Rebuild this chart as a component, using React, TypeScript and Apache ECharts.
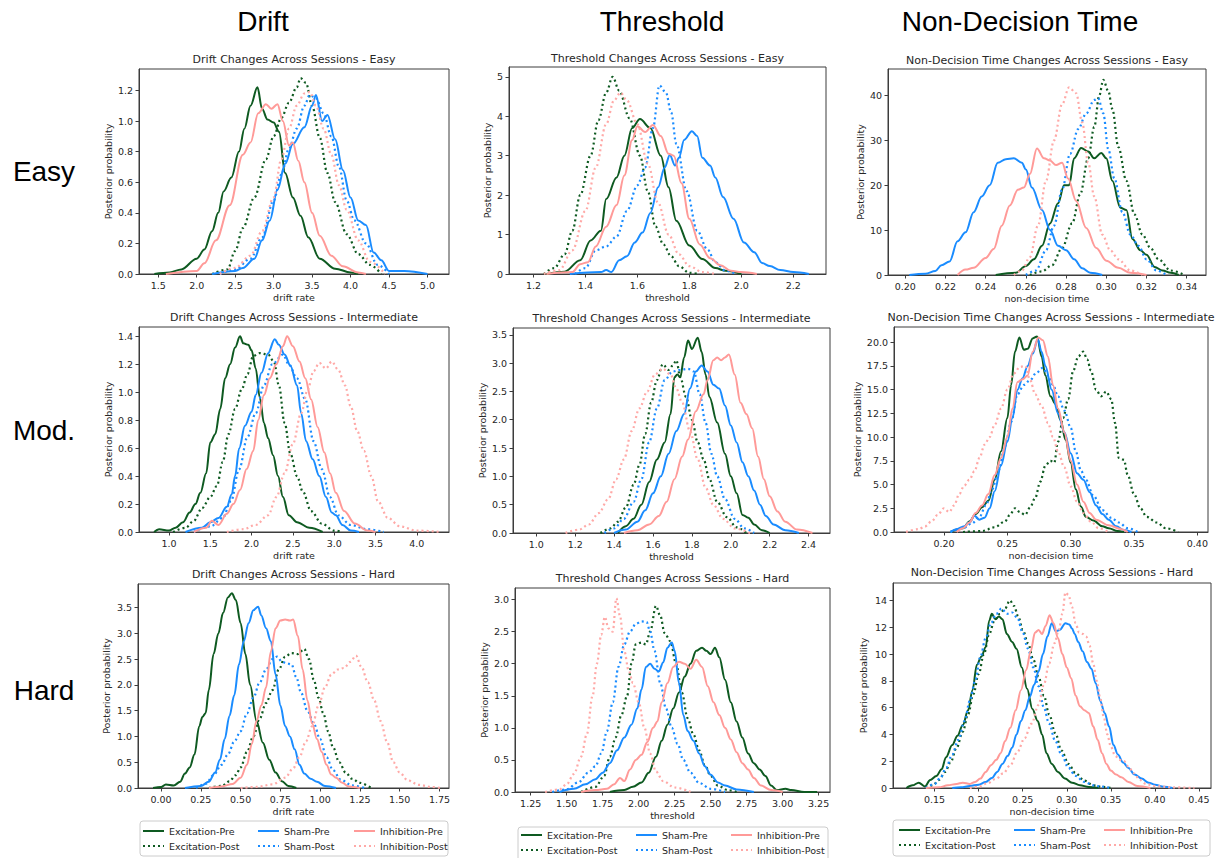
import React, { useEffect, useRef } from 'react';
import * as echarts from 'echarts';

// ---------- Drift - Easy ----------
const driftEasyExPre = [[1.45,0],[1.65,0.01],[1.8,0.03],[2.0,0.1],[2.1,0.16],[2.2,0.28],[2.28,0.4],[2.35,0.54],[2.45,0.63],[2.55,0.8],[2.62,0.95],[2.7,1.1],[2.79,1.22],[2.85,1.08],[2.92,1.01],[3.0,0.99],[3.07,0.93],[3.15,0.66],[3.25,0.5],[3.35,0.38],[3.45,0.24],[3.6,0.1],[3.8,0.035],[4.0,0.01],[4.1,0]];
const driftEasyExPost = [[2.2,0],[2.4,0.03],[2.5,0.15],[2.6,0.3],[2.75,0.5],[2.9,0.75],[3.0,0.9],[3.1,1.02],[3.2,1.12],[3.3,1.22],[3.35,1.28],[3.42,1.25],[3.5,1.1],[3.6,0.89],[3.7,0.66],[3.8,0.47],[3.95,0.26],[4.1,0.13],[4.25,0.06],[4.4,0]];
const driftEasyShamPre = [[2.2,0],[2.5,0.02],[2.6,0.04],[2.75,0.1],[2.85,0.22],[2.95,0.35],[3.05,0.55],[3.15,0.72],[3.25,0.85],[3.4,0.96],[3.5,1.1],[3.55,1.17],[3.63,1.0],[3.7,1.04],[3.8,0.88],[3.9,0.68],[4.0,0.5],[4.1,0.35],[4.2,0.32],[4.3,0.14],[4.4,0.09],[4.5,0.02],[4.7,0.02],[5.0,0]];
const driftEasyShamPost = [[2.3,0],[2.5,0.03],[2.7,0.1],[2.85,0.24],[3.0,0.48],[3.1,0.65],[3.2,0.82],[3.3,0.95],[3.4,1.1],[3.47,1.17],[3.55,1.15],[3.65,1.05],[3.75,0.9],[3.85,0.7],[3.95,0.48],[4.05,0.35],[4.2,0.2],[4.35,0.06],[4.5,0]];
const driftEasyInhPre = [[1.6,0],[2.0,0.02],[2.1,0.07],[2.25,0.22],[2.43,0.45],[2.6,0.78],[2.7,0.86],[2.8,1.05],[2.9,1.11],[2.97,1.08],[3.05,1.11],[3.12,1.0],[3.2,0.84],[3.25,0.86],[3.32,0.74],[3.4,0.6],[3.5,0.4],[3.6,0.25],[3.75,0.12],[3.9,0.05],[4.1,0.01],[4.2,0]];
const driftEasyInhPost = [[2.3,0],[2.5,0.04],[2.7,0.12],[2.85,0.28],[3.0,0.5],[3.1,0.75],[3.2,0.95],[3.3,1.1],[3.4,1.18],[3.47,1.19],[3.55,1.1],[3.65,0.95],[3.75,0.78],[3.85,0.58],[3.95,0.42],[4.1,0.22],[4.25,0.08],[4.45,0]];
const driftEasyXTicks = [1.5,2.0,2.5,3.0,3.5,4.0,4.5,5.0];
const driftEasyYTicks = [0,0.2,0.4,0.6,0.8,1.0,1.2];

// ---------- Threshold - Easy ----------
const thrEasyExPre = [[1.25,0],[1.32,0.06],[1.38,0.35],[1.42,0.85],[1.46,1.1],[1.48,1.9],[1.52,2.45],[1.55,3.0],[1.58,3.7],[1.61,3.93],[1.65,3.7],[1.69,3.0],[1.72,2.2],[1.75,1.35],[1.8,0.72],[1.85,0.38],[1.9,0.15],[1.94,0.08],[2.0,0]];
const thrEasyExPost = [[1.24,0],[1.28,0.15],[1.32,0.5],[1.35,1.1],[1.38,2.0],[1.42,3.0],[1.45,3.9],[1.48,4.6],[1.505,5.0],[1.53,4.65],[1.57,3.95],[1.61,3.0],[1.64,2.1],[1.67,1.2],[1.7,0.75],[1.73,0.45],[1.76,0.2],[1.8,0.03],[1.84,0]];
const thrEasyShamPre = [[1.34,0],[1.46,0.05],[1.48,0.1],[1.5,0.05],[1.53,0.35],[1.56,0.45],[1.59,0.8],[1.62,1.05],[1.65,1.55],[1.68,2.2],[1.705,2.7],[1.725,3.02],[1.745,2.75],[1.76,2.95],[1.78,3.4],[1.81,3.62],[1.83,3.5],[1.85,2.95],[1.88,2.75],[1.9,2.45],[1.93,1.95],[1.97,1.4],[2.01,0.8],[2.05,0.55],[2.08,0.28],[2.11,0.2],[2.15,0.1],[2.2,0.05],[2.26,0]];
const thrEasyShamPost = [[1.36,0],[1.4,0.15],[1.44,0.6],[1.48,0.7],[1.52,0.95],[1.56,1.6],[1.6,2.25],[1.63,2.7],[1.66,3.7],[1.685,4.78],[1.71,4.6],[1.73,4.1],[1.75,3.3],[1.79,2.1],[1.83,1.1],[1.87,0.62],[1.9,0.3],[1.94,0.08],[1.98,0]];
const thrEasyInhPre = [[1.25,0],[1.35,0.05],[1.38,0.25],[1.41,0.3],[1.44,0.7],[1.48,1.2],[1.52,1.75],[1.55,2.5],[1.58,3.4],[1.6,3.75],[1.63,3.6],[1.66,3.78],[1.69,3.5],[1.72,3.05],[1.74,3.0],[1.77,2.3],[1.8,1.4],[1.84,0.75],[1.88,0.4],[1.92,0.22],[1.96,0.08],[2.0,0.05],[2.06,0]];
const thrEasyInhPost = [[1.24,0],[1.3,0.1],[1.35,0.6],[1.4,1.6],[1.44,2.7],[1.48,3.8],[1.51,4.4],[1.535,4.6],[1.56,4.4],[1.6,3.8],[1.64,2.8],[1.68,1.8],[1.72,1.0],[1.76,0.5],[1.8,0.2],[1.85,0.05],[1.9,0]];
const thrEasyXTicks = [1.2,1.4,1.6,1.8,2.0,2.2];
const thrEasyYTicks = [0,1,2,3,4,5];

// ---------- Non-Decision Time - Easy ----------
const ndtEasyExPre = [[0.245,0],[0.255,0.5],[0.26,2],[0.264,3.5],[0.268,6.5],[0.272,11.5],[0.276,16],[0.279,20],[0.2815,20],[0.284,26],[0.2875,28.3],[0.291,27.5],[0.294,26],[0.2975,27.2],[0.3,26],[0.303,21],[0.307,15],[0.31,14.5],[0.313,8],[0.317,5.5],[0.32,4.5],[0.324,1.8],[0.328,1],[0.332,0.5],[0.336,0]];
const ndtEasyExPost = [[0.262,0],[0.268,0.8],[0.273,2.2],[0.278,6],[0.283,11.5],[0.287,18],[0.291,26],[0.294,33],[0.2965,40],[0.2985,43.5],[0.301,41],[0.303,37],[0.306,28.5],[0.31,21],[0.314,13.5],[0.318,9],[0.322,6],[0.326,3.5],[0.332,1],[0.339,0]];
const ndtEasyShamPre = [[0.202,0],[0.21,0.3],[0.215,0.9],[0.218,2.2],[0.222,3],[0.226,7.5],[0.23,9.5],[0.234,14],[0.238,17.5],[0.242,20],[0.246,25],[0.25,25.8],[0.254,26],[0.258,25],[0.26,23.5],[0.263,19.5],[0.268,14.5],[0.272,10],[0.276,6.5],[0.28,5.5],[0.284,3.5],[0.288,1.5],[0.292,0.5],[0.298,0]];
const ndtEasyShamPost = [[0.26,0],[0.265,1],[0.27,5.5],[0.274,11],[0.278,19],[0.282,27],[0.286,32.5],[0.29,36],[0.294,39],[0.296,39.4],[0.2985,36],[0.301,28],[0.304,21.5],[0.308,14],[0.312,9],[0.316,6.5],[0.32,3.5],[0.325,1],[0.33,0]];
const ndtEasyInhPre = [[0.226,0],[0.23,1.2],[0.234,1.6],[0.24,3.8],[0.244,5.8],[0.248,11],[0.252,15.5],[0.256,19],[0.259,19.5],[0.262,22.5],[0.2655,28.2],[0.269,26],[0.272,25.5],[0.275,24.5],[0.278,25],[0.281,21.5],[0.285,16.5],[0.29,10.5],[0.295,6],[0.3,3.2],[0.306,1.6],[0.312,0.5],[0.32,0]];
const ndtEasyInhPost = [[0.254,0],[0.258,1],[0.262,4],[0.266,11],[0.27,21],[0.274,30],[0.278,38],[0.2815,41.8],[0.285,40.5],[0.288,34],[0.291,25],[0.294,17.5],[0.298,9],[0.302,5.5],[0.306,3.5],[0.312,1],[0.318,0]];
const ndtEasyXTicks = [0.20,0.22,0.24,0.26,0.28,0.30,0.32,0.34];
const ndtEasyYTicks = [0,10,20,30,40];

// ---------- Drift - Intermediate ----------
const driftModExPre = [[0.82,0],[0.88,0.02],[1.0,0.01],[1.08,0.03],[1.17,0.07],[1.25,0.14],[1.32,0.2],[1.38,0.28],[1.45,0.42],[1.5,0.64],[1.56,0.7],[1.62,0.88],[1.68,1.1],[1.74,1.2],[1.8,1.32],[1.86,1.4],[1.9,1.35],[1.96,1.34],[2.0,1.3],[2.05,1.17],[2.1,0.96],[2.15,0.78],[2.2,0.67],[2.26,0.55],[2.32,0.4],[2.38,0.25],[2.45,0.12],[2.55,0.07],[2.7,0.03],[2.86,0]];
const driftModExPost = [[1.05,0],[1.2,0.03],[1.3,0.08],[1.4,0.17],[1.5,0.25],[1.58,0.33],[1.65,0.5],[1.72,0.7],[1.8,0.88],[1.88,1.02],[1.95,1.13],[2.02,1.26],[2.1,1.28],[2.2,1.27],[2.27,1.22],[2.33,1.05],[2.4,0.78],[2.47,0.56],[2.55,0.4],[2.62,0.29],[2.72,0.15],[2.85,0.06],[3.0,0.01],[3.1,0]];
const driftModShamPre = [[1.2,0],[1.4,0.03],[1.5,0.07],[1.6,0.1],[1.7,0.18],[1.76,0.27],[1.8,0.4],[1.85,0.6],[1.92,0.76],[2.0,0.86],[2.05,0.98],[2.12,1.14],[2.2,1.28],[2.28,1.38],[2.33,1.34],[2.4,1.27],[2.47,1.19],[2.55,1.05],[2.6,0.85],[2.66,0.65],[2.74,0.52],[2.82,0.4],[2.9,0.25],[2.97,0.14],[3.02,0.12],[3.1,0.05],[3.2,0.01],[3.3,0]];
const driftModShamPost = [[1.3,0],[1.5,0.04],[1.65,0.1],[1.75,0.22],[1.85,0.45],[1.95,0.68],[2.05,0.85],[2.15,1.05],[2.25,1.2],[2.38,1.27],[2.45,1.2],[2.55,1.1],[2.65,0.95],[2.75,0.65],[2.85,0.45],[2.95,0.25],[3.05,0.12],[3.2,0.05],[3.4,0.02],[3.6,0]];
const driftModInhPre = [[1.3,0],[1.45,0.03],[1.52,0.08],[1.6,0.05],[1.7,0.13],[1.78,0.2],[1.86,0.3],[1.94,0.45],[2.02,0.58],[2.08,0.8],[2.15,0.98],[2.22,1.1],[2.3,1.2],[2.38,1.33],[2.43,1.4],[2.5,1.33],[2.58,1.22],[2.65,1.1],[2.72,0.95],[2.8,0.75],[2.88,0.57],[2.95,0.42],[3.02,0.28],[3.12,0.15],[3.25,0.06],[3.4,0.01],[3.5,0]];
const driftModInhPost = [[1.7,0],[1.9,0.02],[2.05,0.05],[2.2,0.12],[2.3,0.25],[2.4,0.42],[2.5,0.63],[2.6,0.85],[2.68,1.02],[2.75,1.15],[2.82,1.21],[2.9,1.17],[2.97,1.22],[3.05,1.16],[3.13,1.05],[3.2,0.9],[3.28,0.72],[3.36,0.58],[3.45,0.4],[3.53,0.22],[3.65,0.1],[3.8,0.04],[4.0,0.01],[4.3,0]];
const driftModXTicks = [1.0,1.5,2.0,2.5,3.0,3.5,4.0];
const driftModYTicks = [0,0.2,0.4,0.6,0.8,1.0,1.2,1.4];

// ---------- Threshold - Intermediate ----------
const thrModExPre = [[1.42,0],[1.46,0.12],[1.5,0.25],[1.54,0.5],[1.58,0.9],[1.62,1.3],[1.66,1.6],[1.69,2.1],[1.71,2.75],[1.725,2.8],[1.74,2.75],[1.76,3.1],[1.78,3.4],[1.8,3.25],[1.83,3.45],[1.85,3.2],[1.87,2.8],[1.89,2.4],[1.93,1.95],[1.97,1.4],[2.0,1.0],[2.03,0.7],[2.06,0.32],[2.09,0.27],[2.12,0.15],[2.16,0.05],[2.2,0]];
const thrModExPost = [[1.33,0],[1.38,0.08],[1.42,0.2],[1.46,0.45],[1.5,0.85],[1.53,1.2],[1.56,1.75],[1.59,2.3],[1.62,2.7],[1.65,2.98],[1.68,2.88],[1.7,2.95],[1.72,3.05],[1.74,2.75],[1.77,2.4],[1.8,2.0],[1.83,1.6],[1.86,1.3],[1.89,0.95],[1.93,0.55],[1.98,0.28],[2.03,0.1],[2.08,0]];
const thrModShamPre = [[1.4,0],[1.46,0.06],[1.52,0.2],[1.56,0.4],[1.6,0.7],[1.64,1.0],[1.68,1.4],[1.72,1.8],[1.76,2.1],[1.79,2.55],[1.82,2.85],[1.85,2.96],[1.88,2.85],[1.91,2.62],[1.94,2.55],[1.97,2.25],[2.0,1.9],[2.03,1.6],[2.06,1.25],[2.09,1.0],[2.12,0.75],[2.15,0.5],[2.18,0.3],[2.22,0.15],[2.28,0.05],[2.35,0]];
const thrModShamPost = [[1.35,0],[1.4,0.08],[1.45,0.25],[1.5,0.55],[1.54,0.95],[1.58,1.6],[1.62,2.2],[1.66,2.7],[1.7,2.85],[1.74,2.88],[1.78,2.9],[1.81,2.85],[1.84,2.45],[1.87,1.95],[1.9,1.4],[1.93,1.0],[1.97,0.6],[2.02,0.25],[2.07,0.08],[2.12,0]];
const thrModInhPre = [[1.45,0],[1.52,0.05],[1.58,0.15],[1.63,0.3],[1.67,0.55],[1.71,0.95],[1.75,1.35],[1.78,1.65],[1.82,2.15],[1.86,2.45],[1.88,2.7],[1.91,3.05],[1.93,3.1],[1.95,3.05],[1.97,3.1],[1.99,3.15],[2.02,2.8],[2.05,2.3],[2.08,2.1],[2.11,1.85],[2.14,1.35],[2.17,0.95],[2.2,0.65],[2.24,0.38],[2.28,0.2],[2.34,0.06],[2.42,0]];
const thrModInhPost = [[1.15,0],[1.22,0.06],[1.27,0.15],[1.32,0.35],[1.37,0.6],[1.41,0.95],[1.45,1.3],[1.49,1.8],[1.53,2.2],[1.57,2.5],[1.61,2.8],[1.65,2.9],[1.69,2.8],[1.72,2.55],[1.75,2.3],[1.79,1.8],[1.83,1.3],[1.87,0.8],[1.91,0.5],[1.96,0.25],[2.02,0.08],[2.1,0]];
const thrModXTicks = [1.0,1.2,1.4,1.6,1.8,2.0,2.2,2.4];
const thrModYTicks = [0,0.5,1.0,1.5,2.0,2.5,3.0,3.5];

// ---------- Non-Decision Time - Intermediate ----------
const ndtModExPre = [[0.205,0],[0.215,0.4],[0.22,1.1],[0.225,1.9],[0.23,2.6],[0.235,3.3],[0.24,5.5],[0.245,8.5],[0.25,12],[0.253,15.5],[0.256,19],[0.2595,20.5],[0.263,19.2],[0.266,19.3],[0.27,20.4],[0.2735,20.6],[0.277,18.5],[0.28,16.5],[0.284,14.3],[0.288,13.5],[0.292,11.8],[0.296,9.7],[0.3,7.3],[0.304,4.5],[0.308,2.7],[0.312,1.6],[0.318,1.2],[0.325,0.6],[0.33,0.4],[0.337,0.1],[0.342,0]];
const ndtModExPost = [[0.215,0],[0.23,0.1],[0.24,0.5],[0.248,1.1],[0.252,1.8],[0.256,2.5],[0.26,2.1],[0.264,1.8],[0.268,2.6],[0.272,3.6],[0.276,5.3],[0.28,7.0],[0.284,7.5],[0.287,7.3],[0.29,9.5],[0.294,12],[0.298,14],[0.302,17],[0.306,18.5],[0.31,19],[0.313,18.2],[0.316,17],[0.32,15],[0.324,14.3],[0.328,14.8],[0.332,14],[0.335,11.5],[0.338,7.8],[0.342,7.6],[0.345,6],[0.35,4],[0.355,2.5],[0.36,1.6],[0.368,1.0],[0.375,0.4],[0.385,0]];
const ndtModShamPre = [[0.205,0],[0.21,0.3],[0.216,0.6],[0.22,1.0],[0.224,1.7],[0.228,1.3],[0.232,1.5],[0.236,2.5],[0.24,4.3],[0.245,7],[0.25,9.5],[0.254,12],[0.258,15],[0.262,16.2],[0.266,17.5],[0.27,18.8],[0.274,20.3],[0.277,19],[0.28,17.5],[0.285,15],[0.29,12.5],[0.295,10.5],[0.3,8.3],[0.305,6.2],[0.31,5.5],[0.315,4.2],[0.32,2.8],[0.325,1.9],[0.33,1.3],[0.336,0.6],[0.342,0.2],[0.348,0]];
const ndtModShamPost = [[0.205,0],[0.215,0.4],[0.222,0.9],[0.228,1.6],[0.233,2.8],[0.238,4.5],[0.243,6.5],[0.248,9],[0.253,11.6],[0.258,14.5],[0.263,15.5],[0.268,16],[0.273,16.8],[0.278,17.3],[0.282,16.5],[0.286,15.5],[0.29,14.3],[0.295,12.8],[0.3,11],[0.304,8.5],[0.308,6.5],[0.312,5.5],[0.318,3.8],[0.325,2.3],[0.332,1.5],[0.338,1.0],[0.345,0.4],[0.353,0]];
const ndtModInhPre = [[0.21,0],[0.215,0.4],[0.22,1.0],[0.225,2.0],[0.23,2.8],[0.235,4],[0.24,6],[0.245,7.8],[0.25,10],[0.254,13],[0.258,15.8],[0.262,16.1],[0.266,16.5],[0.27,19],[0.2745,20.5],[0.278,20.2],[0.282,18.5],[0.286,15.5],[0.29,13],[0.295,10.5],[0.3,7.5],[0.305,5],[0.31,3.2],[0.315,2],[0.32,1.3],[0.33,0.7],[0.34,0.3],[0.345,0]];
const ndtModInhPost = [[0.17,0],[0.18,0.3],[0.185,0.6],[0.19,1.1],[0.195,1.8],[0.2,2.5],[0.204,2.1],[0.208,2.8],[0.212,4],[0.216,4.9],[0.22,5.5],[0.224,6.4],[0.228,7.8],[0.232,9.2],[0.236,10],[0.24,11.3],[0.245,13],[0.25,15],[0.255,16.7],[0.26,17.4],[0.264,17.5],[0.268,16],[0.272,14.5],[0.277,13.3],[0.282,11.5],[0.286,10],[0.29,8.5],[0.295,6.8],[0.3,4.8],[0.305,3.2],[0.31,2],[0.316,1.1],[0.322,0.4],[0.33,0]];
const ndtModXTicks = [0.20,0.25,0.30,0.35,0.40];
const ndtModYTicks = [0,2.5,5.0,7.5,10.0,12.5,15.0,17.5,20.0];

// ---------- Drift - Hard ----------
const driftHardExPre = [[-0.05,0],[0.0,0.02],[0.03,0.07],[0.08,0.05],[0.12,0.12],[0.15,0.28],[0.18,0.4],[0.21,0.65],[0.24,1.2],[0.26,1.38],[0.28,1.45],[0.3,1.9],[0.33,2.6],[0.36,3.0],[0.39,3.4],[0.42,3.7],[0.445,3.78],[0.47,3.65],[0.5,3.2],[0.53,2.6],[0.56,2.0],[0.6,1.3],[0.64,0.88],[0.68,0.55],[0.72,0.3],[0.76,0.13],[0.8,0.04],[0.85,0]];
const driftHardExPost = [[0.3,0],[0.38,0.04],[0.43,0.13],[0.47,0.25],[0.5,0.4],[0.54,0.7],[0.58,1.0],[0.62,1.35],[0.66,1.65],[0.7,1.9],[0.74,2.3],[0.78,2.55],[0.82,2.62],[0.86,2.6],[0.9,2.7],[0.93,2.5],[0.96,2.1],[0.99,1.75],[1.02,1.45],[1.05,1.1],[1.08,0.8],[1.12,0.5],[1.16,0.3],[1.2,0.18],[1.25,0.1],[1.32,0]];
const driftHardShamPre = [[0.15,0],[0.25,0.04],[0.3,0.12],[0.34,0.3],[0.37,0.55],[0.4,0.95],[0.43,1.4],[0.46,1.8],[0.49,2.4],[0.52,2.85],[0.55,3.2],[0.58,3.45],[0.61,3.52],[0.63,3.35],[0.66,3.1],[0.69,2.85],[0.72,2.2],[0.75,1.6],[0.78,1.2],[0.81,1.0],[0.84,0.75],[0.87,0.45],[0.9,0.28],[0.94,0.18],[0.98,0.12],[1.03,0.04],[1.1,0]];
const driftHardShamPost = [[0.22,0],[0.28,0.08],[0.33,0.25],[0.38,0.45],[0.42,0.65],[0.46,0.9],[0.5,1.1],[0.54,1.45],[0.58,1.75],[0.62,2.05],[0.66,2.3],[0.7,2.5],[0.73,2.55],[0.76,2.45],[0.79,2.42],[0.82,2.4],[0.85,2.15],[0.88,1.85],[0.92,1.5],[0.96,1.25],[1.0,0.95],[1.04,0.6],[1.08,0.35],[1.13,0.16],[1.2,0.05],[1.28,0]];
const driftHardInhPre = [[0.3,0],[0.38,0.03],[0.45,0.08],[0.5,0.2],[0.54,0.45],[0.57,0.85],[0.6,1.3],[0.63,1.6],[0.66,1.95],[0.69,2.65],[0.72,3.1],[0.75,3.25],[0.78,3.27],[0.81,3.25],[0.83,3.27],[0.86,2.95],[0.89,2.3],[0.92,1.7],[0.95,1.25],[0.98,0.95],[1.01,0.7],[1.04,0.45],[1.07,0.26],[1.1,0.2],[1.14,0.1],[1.18,0.03],[1.25,0]];
const driftHardInhPost = [[0.5,0],[0.6,0.02],[0.7,0.07],[0.78,0.2],[0.83,0.38],[0.87,0.6],[0.91,0.9],[0.95,1.2],[0.99,1.6],[1.03,1.95],[1.07,2.2],[1.11,2.3],[1.15,2.33],[1.19,2.45],[1.225,2.57],[1.26,2.35],[1.3,2.05],[1.34,1.7],[1.38,1.3],[1.42,0.9],[1.46,0.5],[1.5,0.3],[1.55,0.15],[1.62,0.06],[1.7,0.02],[1.76,0]];
const driftHardXTicks = [0.0,0.25,0.5,0.75,1.0,1.25,1.5,1.75];
const driftHardYTicks = [0,0.5,1.0,1.5,2.0,2.5,3.0,3.5];

// ---------- Threshold - Hard ----------
const thrHardExPre = [[1.8,0],[1.9,0.03],[1.96,0.08],[2.02,0.15],[2.07,0.3],[2.12,0.55],[2.16,0.8],[2.2,1.05],[2.24,1.3],[2.28,1.55],[2.32,1.8],[2.36,2.0],[2.4,2.2],[2.44,2.25],[2.47,2.2],[2.5,2.15],[2.53,2.25],[2.56,2.1],[2.6,1.75],[2.64,1.4],[2.68,1.1],[2.72,0.85],[2.76,0.6],[2.8,0.45],[2.84,0.35],[2.88,0.25],[2.92,0.1],[2.96,0.03],[3.02,0.05],[3.06,0.03],[3.15,0],[3.24,0]];
const thrHardExPost = [[1.6,0],[1.7,0.08],[1.76,0.25],[1.8,0.55],[1.84,0.85],[1.88,1.2],[1.92,1.5],[1.95,2.0],[1.98,2.3],[2.02,2.33],[2.05,2.3],[2.08,2.5],[2.12,2.9],[2.15,2.75],[2.18,2.48],[2.22,2.35],[2.26,2.0],[2.3,1.55],[2.34,1.15],[2.38,0.9],[2.42,0.65],[2.46,0.42],[2.5,0.25],[2.55,0.1],[2.62,0.03],[2.68,0]];
const thrHardShamPre = [[1.45,0],[1.55,0.05],[1.63,0.12],[1.7,0.2],[1.75,0.3],[1.8,0.45],[1.85,0.65],[1.9,0.85],[1.95,1.05],[1.99,1.3],[2.02,1.6],[2.05,1.95],[2.08,2.0],[2.11,1.92],[2.14,1.88],[2.17,2.02],[2.2,2.25],[2.23,2.33],[2.25,2.2],[2.28,1.7],[2.31,1.2],[2.34,0.95],[2.38,0.8],[2.42,0.6],[2.46,0.4],[2.5,0.27],[2.55,0.15],[2.6,0.1],[2.68,0.04],[2.8,0]];
const thrHardShamPost = [[1.4,0],[1.5,0.04],[1.58,0.15],[1.65,0.3],[1.7,0.4],[1.74,0.6],[1.78,0.95],[1.82,1.4],[1.86,1.95],[1.9,2.3],[1.94,2.5],[1.98,2.62],[2.02,2.66],[2.055,2.65],[2.08,2.5],[2.11,2.2],[2.15,1.7],[2.19,1.3],[2.23,1.0],[2.27,0.75],[2.31,0.5],[2.36,0.3],[2.42,0.14],[2.5,0.05],[2.6,0]];
const thrHardInhPre = [[1.6,0],[1.7,0.03],[1.78,0.05],[1.83,0.12],[1.87,0.22],[1.9,0.17],[1.94,0.35],[1.98,0.5],[2.02,0.58],[2.06,0.78],[2.1,1.0],[2.13,1.1],[2.16,1.4],[2.2,1.7],[2.24,1.95],[2.28,2.03],[2.32,2.0],[2.36,1.92],[2.4,2.06],[2.44,1.95],[2.48,1.65],[2.52,1.4],[2.56,1.2],[2.6,1.0],[2.64,0.82],[2.68,0.62],[2.72,0.45],[2.76,0.35],[2.8,0.22],[2.85,0.1],[2.92,0.03],[3.0,0]];
const thrHardInhPost = [[1.35,0],[1.45,0.04],[1.5,0.12],[1.55,0.28],[1.6,0.55],[1.64,0.9],[1.68,1.5],[1.71,2.0],[1.74,2.45],[1.765,2.73],[1.79,2.55],[1.82,2.5],[1.845,3.02],[1.87,2.75],[1.9,2.2],[1.93,1.9],[1.96,1.7],[2.0,1.4],[2.04,1.0],[2.08,0.6],[2.12,0.32],[2.17,0.17],[2.25,0.07],[2.36,0]];
const thrHardXTicks = [1.25,1.5,1.75,2.0,2.25,2.5,2.75,3.0,3.25];
const thrHardYTicks = [0,0.5,1.0,1.5,2.0,2.5,3.0];

// ---------- Non-Decision Time - Hard ----------
const ndtHardExPre = [[0.118,0],[0.125,0.2],[0.132,0.4],[0.139,0.12],[0.145,0.6],[0.152,0.9],[0.158,1.4],[0.163,2.3],[0.17,3.2],[0.176,3.9],[0.182,4.7],[0.188,5.8],[0.193,7.3],[0.198,9.2],[0.203,9.8],[0.208,10.5],[0.212,12.5],[0.215,13.0],[0.219,12.6],[0.223,12.8],[0.227,12.6],[0.232,11.5],[0.238,10.9],[0.243,10.4],[0.249,9.0],[0.255,7.4],[0.261,5.9],[0.267,5.0],[0.272,4.0],[0.277,2.6],[0.283,1.8],[0.29,1.2],[0.298,0.7],[0.306,0.4],[0.315,0.2],[0.325,0.08],[0.336,0]];
const ndtHardExPost = [[0.14,0],[0.148,0.2],[0.155,0.6],[0.162,1.2],[0.168,1.9],[0.175,3.0],[0.182,4.2],[0.188,5.5],[0.194,7.0],[0.2,8.5],[0.206,10.0],[0.212,11.5],[0.218,12.5],[0.224,13.0],[0.23,13.4],[0.2355,14.0],[0.24,13.6],[0.245,12.8],[0.25,11.8],[0.256,10.8],[0.262,9.6],[0.268,8.3],[0.274,6.9],[0.28,5.5],[0.287,4.1],[0.294,2.8],[0.302,1.8],[0.31,1.1],[0.32,0.55],[0.33,0.2],[0.34,0.08],[0.35,0]];
const ndtHardShamPre = [[0.17,0],[0.18,0.05],[0.19,0.15],[0.2,0.25],[0.208,0.45],[0.215,0.75],[0.221,1.2],[0.227,1.8],[0.233,2.4],[0.238,3.0],[0.243,4.0],[0.248,5.0],[0.253,5.8],[0.258,6.8],[0.263,7.7],[0.268,8.7],[0.273,10.0],[0.278,11.3],[0.283,12.3],[0.2875,11.7],[0.292,11.8],[0.2985,12.3],[0.303,12.2],[0.306,11.9],[0.309,11.5],[0.313,10.9],[0.318,10.2],[0.323,9.4],[0.328,8.9],[0.333,7.8],[0.338,6.5],[0.343,5.6],[0.348,4.6],[0.353,3.2],[0.358,2.5],[0.364,1.9],[0.37,1.5],[0.377,1.0],[0.385,0.7],[0.393,0.4],[0.4,0.25],[0.41,0.1],[0.42,0]];
const ndtHardShamPost = [[0.14,0],[0.15,0.3],[0.157,0.8],[0.163,1.5],[0.17,2.5],[0.177,3.6],[0.184,5.0],[0.19,6.5],[0.196,8.0],[0.202,9.8],[0.208,11.2],[0.214,12.3],[0.22,13.0],[0.226,13.4],[0.232,13.0],[0.238,13.1],[0.244,12.7],[0.25,11.6],[0.256,10.4],[0.262,9.0],[0.268,7.6],[0.274,6.0],[0.28,4.8],[0.287,3.5],[0.294,2.5],[0.302,1.5],[0.31,0.9],[0.32,0.45],[0.33,0.2],[0.34,0.1],[0.35,0]];
const ndtHardInhPre = [[0.14,0],[0.155,0.05],[0.165,0.2],[0.175,0.3],[0.182,0.4],[0.19,0.3],[0.196,0.45],[0.202,0.7],[0.208,1.2],[0.214,1.7],[0.22,2.1],[0.225,2.6],[0.23,3.5],[0.236,4.5],[0.242,5.8],[0.248,7.3],[0.254,8.8],[0.259,10.2],[0.264,11.6],[0.268,11.8],[0.272,11.5],[0.276,12.1],[0.2805,12.9],[0.285,12.3],[0.29,11.2],[0.295,10.0],[0.3,9.0],[0.305,8.2],[0.31,6.9],[0.315,6.1],[0.32,5.8],[0.325,5.6],[0.33,4.6],[0.335,3.6],[0.34,2.6],[0.345,1.8],[0.35,1.3],[0.356,1.0],[0.362,0.8],[0.37,0.45],[0.38,0.15],[0.395,0]];
const ndtHardInhPost = [[0.19,0],[0.2,0.1],[0.21,0.35],[0.22,0.7],[0.228,1.1],[0.236,1.7],[0.244,2.7],[0.252,3.7],[0.26,4.8],[0.268,6.2],[0.274,7.7],[0.28,9.3],[0.286,10.8],[0.291,11.8],[0.295,13.0],[0.2985,14.6],[0.302,14.4],[0.306,13.5],[0.31,12.3],[0.314,11.6],[0.318,11.5],[0.322,11.3],[0.326,10.6],[0.33,9.3],[0.334,8.0],[0.338,6.7],[0.342,5.3],[0.346,4.0],[0.35,3.1],[0.355,2.4],[0.36,2.1],[0.365,2.0],[0.37,1.6],[0.376,1.1],[0.383,0.6],[0.39,0.3],[0.4,0.15],[0.42,0.05],[0.445,0]];
const ndtHardXTicks = [0.15,0.20,0.25,0.30,0.35,0.40,0.45];
const ndtHardYTicks = [0,2,4,6,8,10,12,14];

// ---------- labels ----------
const SERIES_NAMES = ['Excitation-Pre', 'Excitation-Post', 'Sham-Pre', 'Sham-Post', 'Inhibition-Pre', 'Inhibition-Post'];
const COLUMN_HEADERS = ['Drift', 'Threshold', 'Non-Decision Time'];
const ROW_HEADERS = ['Easy', 'Mod.', 'Hard'];
const Y_NAME = 'Posterior probability';

const LINE_COLORS = ['#0e5a21', '#0e5a21', '#1a8cff', '#1a8cff', '#ff9a98', '#ffa9a7'];
const DOTTED = [false, true, false, true, false, true];
const FONT = 'DejaVu Sans';
const TXT = '#262626';
const AX = '#3c3c3c';

const PANELS = [
  { title: 'Drift Changes Across Sessions - Easy', xName: 'drift rate', grid: { left: 139, top: 69, width: 310, height: 205 }, xMin: 1.25, xMax: 5.28, yMax: 1.34, xTicks: driftEasyXTicks, yTicks: driftEasyYTicks, xDec: 1, yDec: 1, yGap: 26, xGap: 18, titleY: 59,
    curves: [driftEasyExPre, driftEasyExPost, driftEasyShamPre, driftEasyShamPost, driftEasyInhPre, driftEasyInhPost] },
  { title: 'Threshold Changes Across Sessions - Easy', xName: 'threshold', grid: { left: 509, top: 67, width: 317, height: 207 }, xMin: 1.106, xMax: 2.326, yMax: 5.25, xTicks: thrEasyXTicks, yTicks: thrEasyYTicks, xDec: 1, yDec: 0, yGap: 17, xGap: 18, titleY: 58,
    curves: [thrEasyExPre, thrEasyExPost, thrEasyShamPre, thrEasyShamPost, thrEasyInhPre, thrEasyInhPost] },
  { title: 'Non-Decision Time Changes Across Sessions - Easy', xName: 'non-decision time', grid: { left: 888, top: 69, width: 318, height: 206 }, xMin: 0.1914, xMax: 0.3496, yMax: 45.9, xTicks: ndtEasyXTicks, yTicks: ndtEasyYTicks, xDec: 2, yDec: 0, yGap: 23, xGap: 18, titleY: 60,
    curves: [ndtEasyExPre, ndtEasyExPost, ndtEasyShamPre, ndtEasyShamPost, ndtEasyInhPre, ndtEasyInhPost] },
  { title: 'Drift Changes Across Sessions - Intermediate', xName: 'drift rate', grid: { left: 139, top: 327, width: 310, height: 205 }, xMin: 0.637, xMax: 4.39, yMax: 1.467, xTicks: driftModXTicks, yTicks: driftModYTicks, xDec: 1, yDec: 1, yGap: 26, xGap: 18, titleY: 317,
    curves: [driftModExPre, driftModExPost, driftModShamPre, driftModShamPost, driftModInhPre, driftModInhPost] },
  { title: 'Threshold Changes Across Sessions - Intermediate', xName: 'threshold', grid: { left: 513, top: 328, width: 317, height: 205 }, xMin: 0.88, xMax: 2.51, yMax: 3.62, xTicks: thrModXTicks, yTicks: thrModYTicks, xDec: 1, yDec: 1, yGap: 25, xGap: 18, titleY: 318,
    curves: [thrModExPre, thrModExPost, thrModShamPre, thrModShamPost, thrModInhPre, thrModInhPost] },
  { title: 'Non-Decision Time Changes Across Sessions - Intermediate', xName: 'non-decision time', grid: { left: 894, top: 327, width: 314, height: 205 }, xMin: 0.1605, xMax: 0.4084, yMax: 21.6, xTicks: ndtModXTicks, yTicks: ndtModYTicks, xDec: 2, yDec: 1, yGap: 32, xGap: 18, titleY: 317,
    curves: [ndtModExPre, ndtModExPost, ndtModShamPre, ndtModShamPost, ndtModInhPre, ndtModInhPost] },
  { title: 'Drift Changes Across Sessions - Hard', xName: 'drift rate', grid: { left: 138, top: 584, width: 311, height: 204 }, xMin: -0.145, xMax: 1.81, yMax: 3.96, xTicks: driftHardXTicks, yTicks: driftHardYTicks, xDec: 2, yDec: 1, yGap: 27, xGap: 18, titleY: 574,
    curves: [driftHardExPre, driftHardExPost, driftHardShamPre, driftHardShamPost, driftHardInhPre, driftHardInhPost] },
  { title: 'Threshold Changes Across Sessions - Hard', xName: 'threshold', grid: { left: 515, top: 588, width: 315, height: 204 }, xMin: 1.141, xMax: 3.329, yMax: 3.18, xTicks: thrHardXTicks, yTicks: thrHardYTicks, xDec: 2, yDec: 1, yGap: 26, xGap: 18, titleY: 578,
    curves: [thrHardExPre, thrHardExPost, thrHardShamPre, thrHardShamPost, thrHardInhPre, thrHardInhPost] },
  { title: 'Non-Decision Time Changes Across Sessions - Hard', xName: 'non-decision time', grid: { left: 893, top: 583, width: 318, height: 205 }, xMin: 0.1028, xMax: 0.4637, yMax: 15.3, xTicks: ndtHardXTicks, yTicks: ndtHardYTicks, xDec: 2, yDec: 0, yGap: 25, xGap: 18, titleY: 572,
    curves: [ndtHardExPre, ndtHardExPost, ndtHardShamPre, ndtHardShamPost, ndtHardInhPre, ndtHardInhPost] },
];

const LEGEND_BOXES = [
  { box: { x: 140, y: 821, width: 308, height: 35 }, top: 826, lefts: [142, 257, 353] },
  { box: { x: 518, y: 827, width: 310, height: 35 }, top: 830, lefts: [520, 635, 730] },
  { box: { x: 893, y: 820, width: 317, height: 36 }, top: 825, lefts: [898, 1013, 1103] },
];

function buildOption() {
  const grid = PANELS.map((p) => ({ ...p.grid, show: true, borderColor: AX, borderWidth: 1, backgroundColor: 'transparent' }));
  const textBase = { fontFamily: FONT, color: TXT, fontSize: 9.5 };
  const xAxis = PANELS.map((p, i) => ({
    type: 'value', gridIndex: i, min: p.xMin, max: p.xMax,
    name: p.xName, nameLocation: 'middle', nameGap: p.xGap, nameTextStyle: textBase,
    axisLine: { show: true, onZero: false, lineStyle: { color: AX, width: 1 } },
    axisTick: { show: true, length: 3.5, customValues: p.xTicks, lineStyle: { color: AX } },
    axisLabel: { ...textBase, margin: 6, customValues: p.xTicks, formatter: (v: number) => v.toFixed(p.xDec) },
    splitLine: { show: false },
  }));
  const yAxis = PANELS.map((p, i) => ({
    type: 'value', gridIndex: i, min: 0, max: p.yMax,
    name: Y_NAME, nameLocation: 'middle', nameGap: p.yGap, nameTextStyle: textBase,
    axisLine: { show: true, onZero: false, lineStyle: { color: AX, width: 1 } },
    axisTick: { show: true, length: 3.5, customValues: p.yTicks, lineStyle: { color: AX } },
    axisLabel: { ...textBase, margin: 6, customValues: p.yTicks, formatter: (v: number) => v.toFixed(p.yDec) },
    splitLine: { show: false },
  }));
  const series: any[] = [];
  PANELS.forEach((p, i) => {
    p.curves.forEach((c, k) => {
      series.push({
        type: 'line', name: SERIES_NAMES[k], xAxisIndex: i, yAxisIndex: i, data: c,
        symbol: 'none', smooth: 0.35, smoothMonotone: 'x', silent: true, z: 2 + k,
        lineStyle: { color: LINE_COLORS[k], width: DOTTED[k] ? 2.2 : 2, type: DOTTED[k] ? [2, 3] : 'solid' },
        itemStyle: { color: LINE_COLORS[k] },
      });
    });
  });
  const legend: any[] = [];
  LEGEND_BOXES.forEach((lb) => {
    lb.lefts.forEach((left, c) => {
      legend.push({
        orient: 'vertical', left, top: lb.top, padding: 0, itemGap: 5, itemWidth: 21, itemHeight: 10,
        data: [SERIES_NAMES[c * 2], SERIES_NAMES[c * 2 + 1]], z: 60, selectedMode: false,
        itemStyle: { opacity: 0 },
        textStyle: { fontFamily: FONT, color: TXT, fontSize: 9.5 },
      });
    });
  });
  const graphic: any[] = [];
  LEGEND_BOXES.forEach((lb) => {
    graphic.push({ type: 'rect', z: 50, shape: { ...lb.box, r: 3 }, style: { fill: '#ffffff', stroke: '#cccccc', lineWidth: 1 } });
  });
  PANELS.forEach((p) => {
    graphic.push({ type: 'text', z: 50, x: p.grid.left + p.grid.width / 2, y: p.titleY,
      style: { text: p.title, fontFamily: FONT, fontSize: 11, fill: TXT, align: 'center', verticalAlign: 'middle', textAlign: 'center', textVerticalAlign: 'middle' } });
  });
  const colX = [263, 662, 1020];
  COLUMN_HEADERS.forEach((t, i) => {
    graphic.push({ type: 'text', z: 50, x: colX[i], y: 21,
      style: { text: t, fontFamily: 'Liberation Sans', fontSize: 28, fill: '#000', align: 'center', verticalAlign: 'middle', textAlign: 'center', textVerticalAlign: 'middle' } });
  });
  const rowY = [171, 430, 690];
  ROW_HEADERS.forEach((t, i) => {
    graphic.push({ type: 'text', z: 50, x: 44, y: rowY[i],
      style: { text: t, fontFamily: 'Liberation Sans', fontSize: 28, fill: '#000', align: 'center', verticalAlign: 'middle', textAlign: 'center', textVerticalAlign: 'middle' } });
  });
  return { animation: false, backgroundColor: '#ffffff', grid, xAxis, yAxis, series, legend, graphic };
}

export default function App() {
  const ref = useRef<HTMLDivElement>(null);
  useEffect(() => {
    if (!ref.current) return;
    const chart = echarts.init(ref.current, undefined, { renderer: 'svg' });
    chart.setOption(buildOption() as any);
    return () => chart.dispose();
  }, []);
  return <div ref={ref} style={{ position: 'absolute', left: 0, top: 0, width: 1221, height: 858 }} />;
}
